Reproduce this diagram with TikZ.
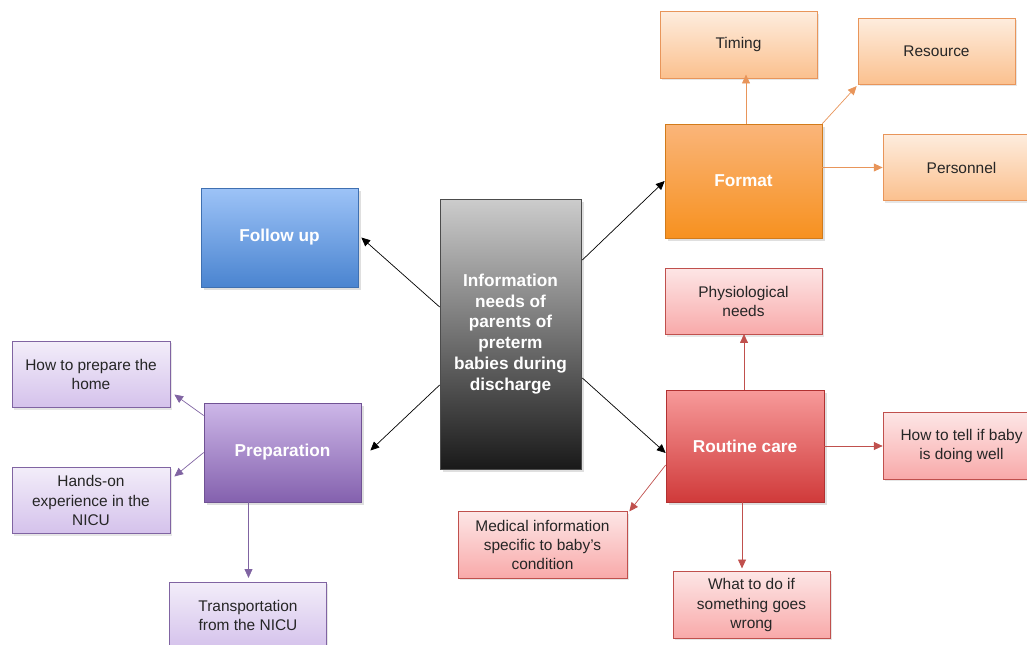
\documentclass[tikz,border=0pt]{standalone}
\usepackage{fontspec}
\setmainfont{Liberation Sans}
\usetikzlibrary{shadows,arrows.meta}

\definecolor{bluetop}{HTML}{9DC3F7}
\definecolor{bluebot}{HTML}{4A84D0}
\definecolor{orgtop}{HTML}{FAB57A}
\definecolor{orgbot}{HTML}{F7911F}
\definecolor{redtop}{HTML}{F79A9A}
\definecolor{redbot}{HTML}{D03A3A}
\definecolor{purtop}{HTML}{CDB7E8}
\definecolor{purbot}{HTML}{8461AE}
\definecolor{orgline}{HTML}{E8955A}
\definecolor{redline}{HTML}{C0504D}
\definecolor{purline}{HTML}{8064A2}

\begin{document}
\begin{tikzpicture}[x=0.02cm,y=-0.02cm,>={Triangle[length=5pt,width=4.5pt]},
  mainbox/.style={draw=#1bot!85!black,top color=#1top,bottom color=#1bot,
    minimum width=3.14cm,text=white,align=center,
    font=\fontsize{9.8}{11.9}\selectfont\bfseries,
    drop shadow={opacity=0.25,shadow xshift=1.5pt,shadow yshift=-1.5pt}},
  subbox/.style={draw=#1line,top color=#1top!25!white,bottom color=#1top!85!white,
    minimum width=3.14cm,minimum height=1.33cm,align=center,text=black!85,
    font=\fontsize{8.8}{11}\selectfont,
    drop shadow={opacity=0.2,shadow xshift=1pt,shadow yshift=-1pt}},
  link/.style={#1line,->}]
\useasboundingbox (0,0) rectangle (1027,645);

% middle
\node[draw=black!70,top color=black!20,bottom color=black!90,
  minimum width=2.82cm,minimum height=5.4cm,text=white,align=center,
  font=\fontsize{9.8}{11.9}\selectfont\bfseries,
  drop shadow={opacity=0.25,shadow xshift=1.5pt,shadow yshift=-1.5pt}]
  (needs) at (510.5,334) {Information\\needs of\\parents of\\preterm\\babies during\\discharge};

% main topics
\node[mainbox=blue,minimum height=1.98cm] (follow) at (279.5,237.5) {Follow up};
\node[mainbox=org,minimum height=2.28cm] (format) at (743.5,181) {Format};
\node[mainbox=red,minimum height=2.24cm,minimum width=3.16cm] (routine) at (745,446) {Routine care};
\node[mainbox=pur,minimum height=1.98cm] (prep) at (282.5,452.5) {Preparation};

% format
\node[subbox=org] (timing) at (738.5,45) {Timing};
\node[subbox=org] (resource) at (936.5,51.5) {Resource};
\node[subbox=org] (personnel) at (961.5,167.5) {Personnel};

% routine care
\node[subbox=red] (physio) at (743.5,301.5) {Physiological\\needs};
\node[subbox=red] (tell) at (961.5,446) {How to tell if baby\\is doing well};
\node[subbox=red,minimum width=3.38cm] (medical) at (542.5,545) {Medical information\\specific to baby's\\condition};
\node[subbox=red] (whatdo) at (751.5,605) {What to do if\\something goes\\wrong};

% preparation
\node[subbox=pur,minimum width=3.16cm] (home) at (91,374.5) {How to prepare the\\home};
\node[subbox=pur,minimum width=3.16cm] (handson) at (91,500.5) {Hands-on\\experience in the\\NICU};
\node[subbox=pur] (transport) at (248,615.5) {Transportation\\from the NICU};

% arrows from the middle
\draw[->] ([shift={(0,-27)}]needs.west) -- ([shift={(3,0)}]follow.east);
\draw[->] ([shift={(0,51)}]needs.west) -- ([shift={(9,-2)}]prep.east);
\draw[->] ([shift={(1,-74)}]needs.east) -- (format.west);
\draw[->] ([shift={(1,44)}]needs.east) -- ([shift={(0,7)}]routine.west);

% arrows of the topics
\draw[link=org] ([shift={(2.5,0)}]format.north) -- ([shift={(2.5,-4)}]format.north |- timing.south);
\draw[link=org] (format.north east) -- ([shift={(-1,1)}]resource.south west);
\draw[link=org] (format.east |- personnel.west) -- (personnel.west);
\draw[link=red] ([shift={(-1,0)}]routine.north) -- ([shift={(-1,-1)}]routine.north |- physio.south);
\draw[link=red] (routine.east) -- (tell.west);
\draw[link=red] ([shift={(0,19)}]routine.west) -- ([shift={(2,0)}]medical.north east);
\draw[link=red] ([shift={(-3,0)}]routine.south) -- ([shift={(-3,-3)}]routine.south |- whatdo.north);
\draw[link=pur] ([shift={(0,-37)}]prep.west) -- ([shift={(4,20)}]home.east);
\draw[link=pur] (prep.west) -- ([shift={(4,-24)}]handson.east);
\draw[link=pur] ([shift={(-34,0)}]prep.south) -- ([shift={(-34,-4)}]prep.south |- transport.north);
\end{tikzpicture}
\end{document}
